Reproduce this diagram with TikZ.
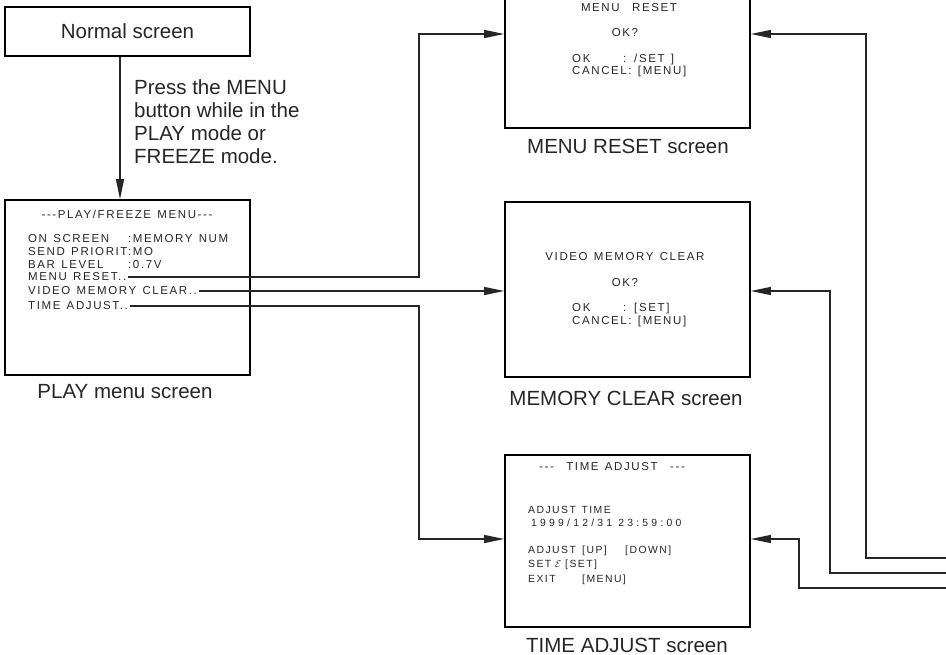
\documentclass[tikz,border=0pt]{standalone}
\usepackage{fontspec}
\setmainfont{Liberation Sans}
\newfontfamily\scrfont[LetterSpace=14, WordSpace=1.3]{Liberation Sans}
\newfontfamily\datefont[LetterSpace=31]{Liberation Sans}
\usetikzlibrary{arrows.meta, positioning, calc}

\begin{document}
\begin{tikzpicture}[
    x=1pt, y=-1pt,
    scrbox/.style={draw, line width=1.6pt, minimum width=245pt, inner sep=0pt},
    scrtext/.style={font={\scrfont\fontsize{11.5pt}{13pt}\selectfont}, text=black!85, inner sep=0pt, text height=8pt, text depth=0pt, anchor=west},
    timetext/.style={scrtext, font={\scrfont\fontsize{10.4pt}{13pt}\selectfont}},
    caption/.style={font={\fontsize{20.5pt}{23pt}\selectfont}, text=black!85, inner sep=0pt, anchor=base},
    arr/.style={-{Triangle[length=20pt,width=8pt]}, line width=1.2pt, draw=black!85}
]
    \useasboundingbox (0,0) rectangle (946,655);

    % Normal screen and PLAY menu
    \node[scrbox, minimum height=49pt, font={\fontsize{20.5pt}{23pt}\selectfont}, text=black!85] (normal) at (127.5,31.5) {Normal screen};
    \node[caption, anchor=north west, align=left] (press) at (134,79) {Press the MENU\\button while in the\\PLAY mode or\\FREEZE mode.};
    \node[scrbox, minimum height=175pt] (playscr) at (127.5,287.5) {};
    \node[caption] (playcap) at (125,399) {PLAY menu screen};

    \node[scrtext, anchor=center] (playtitle) at (127,215) {-{}-{}-PLAY/FREEZE MENU-{}-{}-};
    \node[scrtext] (onscreen) at (28,239) {\makebox[100pt][l]{ON SCREEN}:MEMORY NUM};
    \node[scrtext] (sendprio) at (28,252) {\makebox[100pt][l]{SEND PRIORIT}:MO};
    \node[scrtext] (barlevel) at (28,265) {\makebox[100pt][l]{BAR LEVEL}:0.7V};
    \node[scrtext] (mreset) at (28,277) {MENU RESET..};
    \node[scrtext] (vmclear) at (28,291) {VIDEO MEMORY CLEAR..};
    \node[scrtext] (tadjust) at (28,306) {TIME ADJUST..};

    % MENU RESET screen
    \node[scrbox, minimum height=138pt] (resetscr) at (627.5,59) {};
    \node[caption] (resetcap) at (628,154) {MENU RESET screen};
    \node[scrtext, anchor=center] (resettitle) at (629,8) {MENU\ \ RESET};
    \node[scrtext, anchor=center] (resetok) at (625,33) {OK?};
    \node[scrtext] (resetset) at (572,59) {\makebox[51pt][l]{OK}: /SET ]};
    \node[scrtext] (resetcancel) at (572,71) {CANCEL: [MENU]};

    % MEMORY CLEAR screen
    \node[scrbox, minimum height=175pt] (clearscr) at (627.5,289.5) {};
    \node[caption] (clearcap) at (626,405) {MEMORY CLEAR screen};
    \node[scrtext, anchor=center] (cleartitle) at (625,257) {VIDEO MEMORY CLEAR};
    \node[scrtext, anchor=center] (clearok) at (625,283) {OK?};
    \node[scrtext] (clearset) at (572,308) {\makebox[51pt][l]{OK}: [SET]};
    \node[scrtext] (clearcancel) at (572,320) {CANCEL: [MENU]};

    % TIME ADJUST screen
    \node[scrbox, minimum height=172pt] (timescr) at (627.5,541) {};
    \node[caption] (timecap) at (627,652) {TIME ADJUST screen};
    \node[scrtext, anchor=center] (timetitle) at (612,466) {-{}-{}-\ \ TIME ADJUST\ \ -{}-{}-};
    \node[timetext] (adjtime) at (528,509) {ADJUST TIME};
    \node[timetext, font={\datefont\fontsize{10.4pt}{13pt}\selectfont}] (datetime) at (531,522) {1999/12/31 23:59:00};
    \node[timetext] (adjupdown) at (528,549) {\makebox[54pt][l]{ADJUST}\makebox[43pt][l]{[UP]}[DOWN]};
    \node[timetext] (adjset) at (528,563) {\makebox[27pt][l]{SET}\makebox[10pt][l]{$\mathcal{E}$}[SET]};
    \node[timetext] (adjexit) at (528,578) {\makebox[54pt][l]{EXIT}[MENU]};

    % bends and return lines
    \coordinate (bendA) at (419,34);
    \coordinate (bendB) at (419,539);
    \coordinate (retA) at (946,558);
    \coordinate (retB) at (946,573);
    \coordinate (retC) at (946,588);
    \coordinate (upA) at (866,34);
    \coordinate (upB) at (830,291);
    \coordinate (upC) at (799,539);

    % connectors
    \draw[arr] ([xshift=-7.5pt]normal.south) -- ([xshift=-7.5pt]playscr.north);
    \draw[arr] ([xshift=2pt]mreset.east) -| (bendA) -- (bendA -| resetscr.west);
    \draw[arr] ([xshift=2pt]vmclear.east) -- (vmclear.east -| clearscr.west);
    \draw[arr] ([xshift=2pt]tadjust.east) -| (bendB) -- (bendB -| timescr.west);
    \draw[arr] (retA) -| (upA) -- (upA -| resetscr.east);
    \draw[arr] (retB) -| (upB) -- (upB -| clearscr.east);
    \draw[arr] (retC) -| (upC) -- (upC -| timescr.east);
\end{tikzpicture}
\end{document}
